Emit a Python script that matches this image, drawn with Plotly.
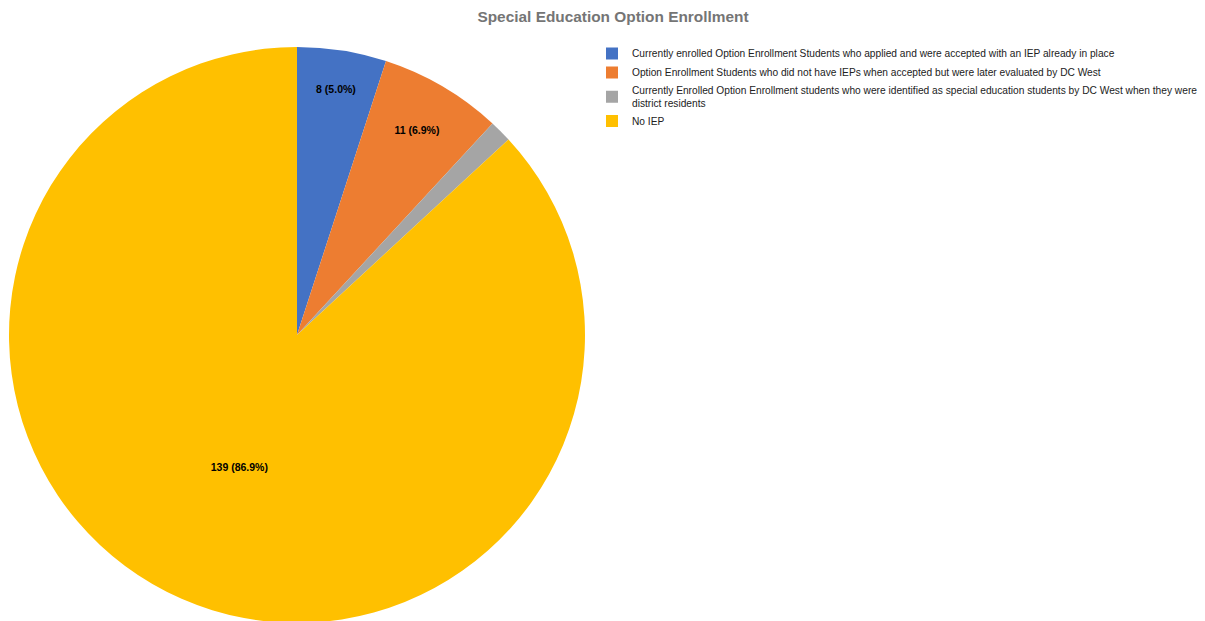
import plotly.graph_objects as go

labels = [
    "Currently enrolled Option Enrollment Students who applied and were accepted with an IEP already in place",
    "Option Enrollment Students who did not have IEPs when accepted but were later evaluated by DC West",
    "Currently Enrolled Option Enrollment students who were identified as special education students by DC West when they were<br>district residents",
    "No IEP",
]
values = [8, 11, 2, 139]
colors = ["#4472C4", "#ED7D31", "#A5A5A5", "#FFC000"]
show_label = [True, True, False, True]

total = sum(values)
texts = [f"{v} ({v / total * 100:.1f}%)" if s else "" for v, s in zip(values, show_label)]

W, H = 1205, 630

fig = go.Figure(go.Pie(
    labels=labels,
    values=values,
    text=texts,
    textinfo="text",
    textposition="inside",
    insidetextorientation="horizontal",
    sort=False,
    direction="clockwise",
    rotation=0,
    marker=dict(colors=colors, line=dict(width=0)),
    textfont=dict(family="Liberation Sans, Arial", size=10.5, color="#000000", weight="bold"),
    domain=dict(x=[9 / W, 585 / W], y=[(H - 623) / H, (H - 47) / H]),
    showlegend=True,
))

fig.update_layout(
    width=W, height=H,
    margin=dict(l=0, r=0, t=0, b=0),
    paper_bgcolor="white",
    plot_bgcolor="white",
    title=dict(
        text="<b>Special Education Option Enrollment</b>",
        x=613 / W, xanchor="center", y=1 - 17 / H, yanchor="middle",
        font=dict(family="Liberation Sans, Arial", size=15.4, color="#757575"),
    ),
    legend=dict(
        x=592 / W, y=1 - 39 / H, xanchor="left", yanchor="top",
        font=dict(family="Liberation Sans, Arial", size=10.2, color="#222222"),
        itemwidth=30, tracegroupgap=0, borderwidth=0,
        bgcolor="rgba(0,0,0,0)",
    ),
)

fig.write_html("out.html")
